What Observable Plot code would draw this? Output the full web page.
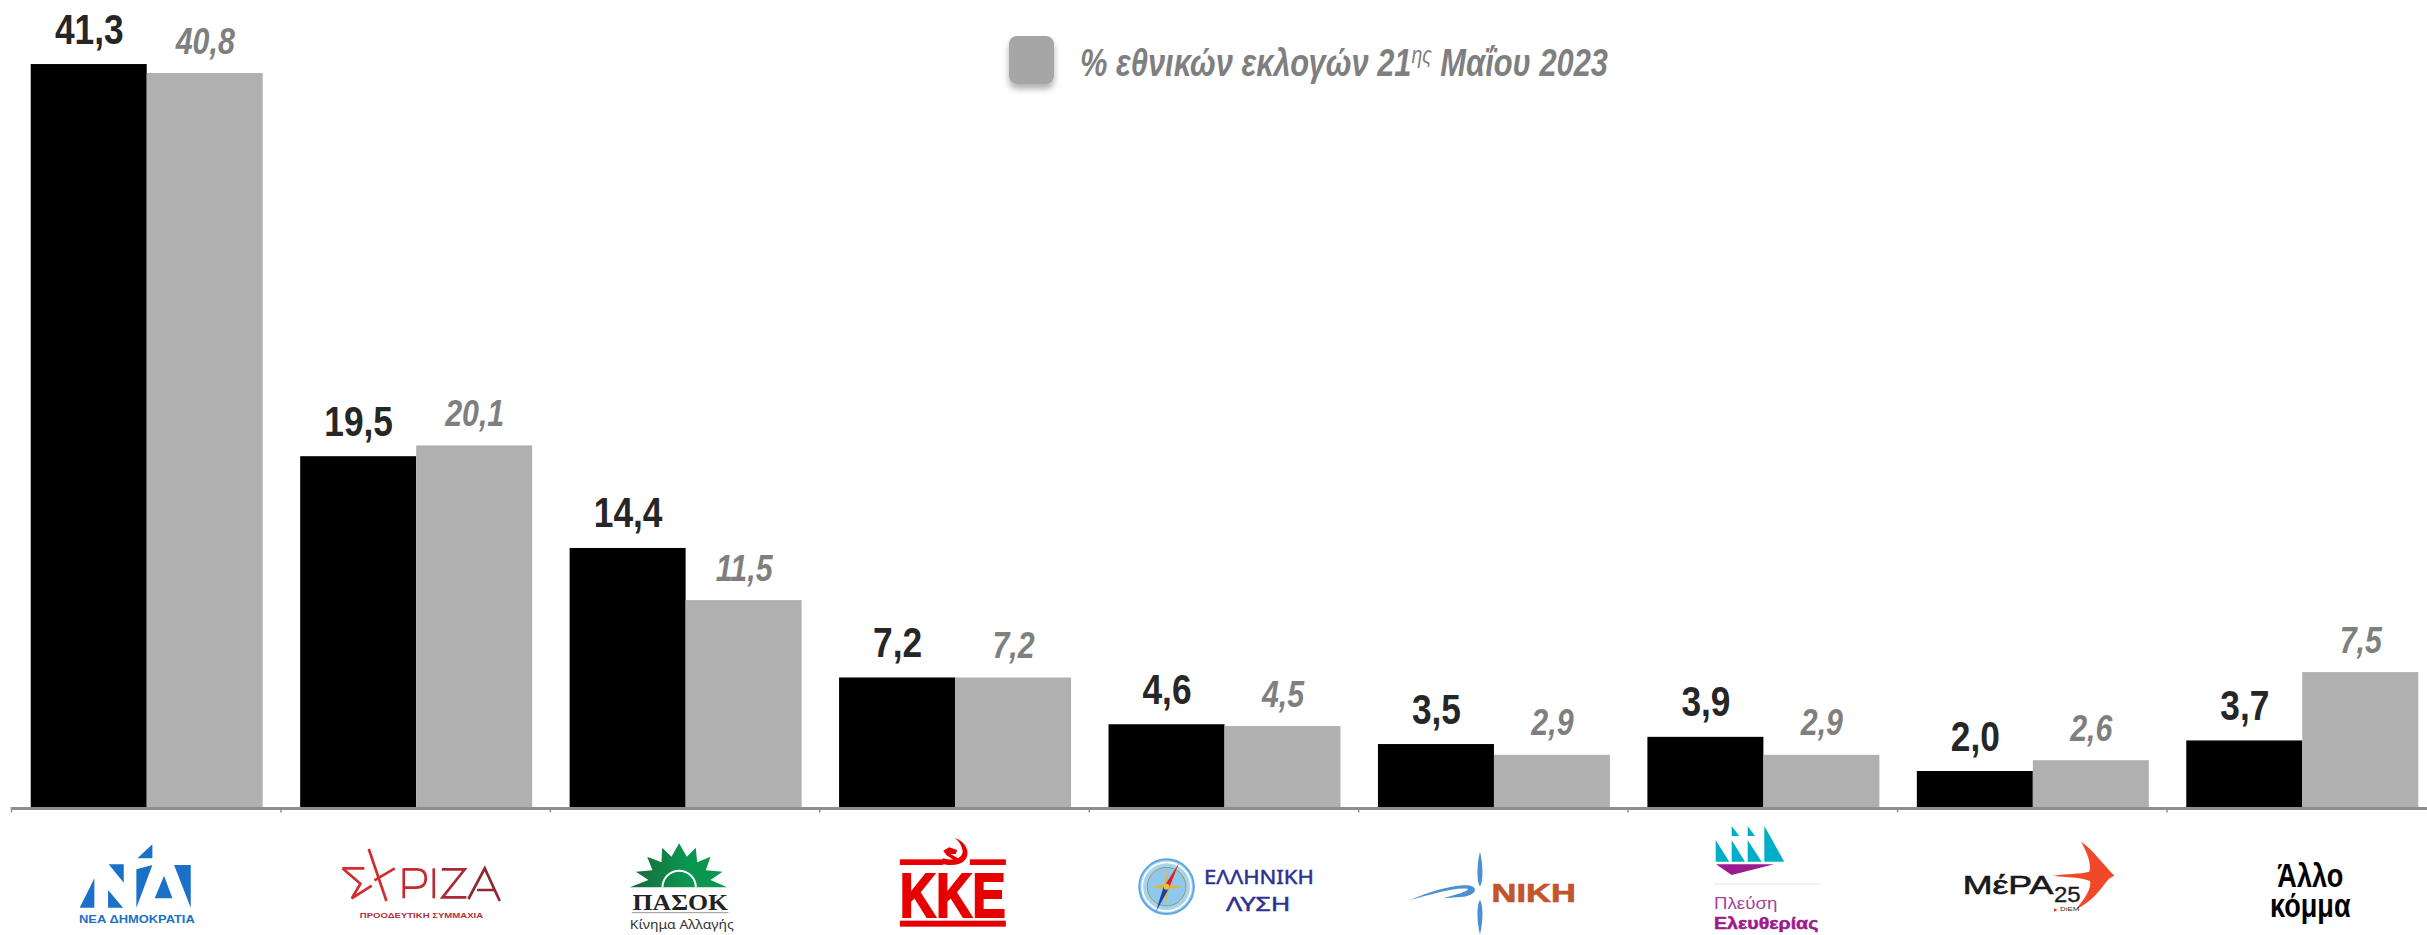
<!DOCTYPE html>
<html lang="el">
<head>
<meta charset="utf-8">
<title>Πρόθεση ψήφου</title>
<script src="https://cdn.jsdelivr.net/npm/d3@7"></script>
<script src="https://cdn.jsdelivr.net/npm/@observablehq/plot@0.6"></script>
<style>
html,body{margin:0;padding:0;background:#fff;overflow:hidden}
svg{display:block}
</style>
</head>
<body>
<div id="chart"></div>
<script>
const parties = ["Νέα Δημοκρατία","ΣΥΡΙΖΑ","ΠΑΣΟΚ","ΚΚΕ","Ελληνική Λύση","Νίκη","Πλεύση Ελευθερίας","ΜέΡΑ25","Άλλο κόμμα"];
const pollValues = [41.3,19.5,14.4,7.2,4.6,3.5,3.9,2.0,3.7];
const electionValues = [40.8,20.1,11.5,7.2,4.5,2.9,2.9,2.6,7.5];
const seriesNames = ["Δημοσκόπηση","Εκλογές 21ης Μαΐου 2023"];
const seriesColors = ["#000000","#b0b0b0"];
const legendMain = "% εθνικών εκλογών 21";
const legendSup = "ης";
const legendEnd = " Μαΐου 2023";

const rows = parties.flatMap((party,i)=>[
  {party, series:seriesNames[0], value:pollValues[i]},
  {party, series:seriesNames[1], value:electionValues[i]}
]);
const comma = v => d3.format(".1f")(v).replace(".",",");
const SANS = "'Liberation Sans',Arial,sans-serif";

const barW = 116.1, groupGap = 18.7, NARROW_RATIO = 0.82;

const chart = Plot.plot({
  width:2427, height:935,
  marginTop:0, marginBottom:128, marginLeft:12, marginRight:-10,
  style:{background:"#fff", fontFamily:SANS},
  fx:{domain:parties, axis:null, label:null, paddingInner:0.139, paddingOuter:0.0695, round:false},
  x:{domain:seriesNames, axis:null, label:null, padding:0, round:false},
  y:{domain:[0,44.86], axis:null, label:null},
  color:{domain:seriesNames, range:seriesColors},
  marks:[
    Plot.barY(rows,{fx:"party",x:"series",y:"value",fill:"series"}),
    Plot.ruleY(parties,{fx:d=>d,y:()=>0,stroke:"#8e8e8e",strokeWidth:3,dy:1,insetLeft:-groupGap-1,insetRight:-groupGap-1}),
    Plot.ruleX(parties,{fx:d=>d,x:()=>seriesNames[0],y1:()=>0,y2:()=>-0.3,stroke:"#8e8e8e",strokeWidth:1.5,dx:-(barW/2+groupGap+1)}),
    Plot.text(rows.filter(d=>d.series===seriesNames[0]),{fx:"party",x:"series",y:"value",text:d=>comma(d.value),
      lineAnchor:"bottom",dy:-21,fontSize:43,fontWeight:700,fill:"#262626",fontFamily:SANS,className:"narrow"}),
    Plot.text(rows.filter(d=>d.series===seriesNames[1]),{fx:"party",x:"series",y:"value",text:d=>comma(d.value),
      lineAnchor:"bottom",dy:-20,fontSize:37,fontWeight:700,fontStyle:"italic",fill:"#7f7f7f",fontFamily:SANS,className:"narrow"})
  ]
});
document.getElementById("chart").append(chart);

const svg = d3.select(chart);
const fxScale = chart.scale("fx");
const defs = svg.append("defs");
const f = defs.append("filter").attr("id","legendShadow").attr("x","-30%").attr("y","-30%").attr("width","160%").attr("height","170%");
f.append("feDropShadow").attr("dx",0).attr("dy",5).attr("stdDeviation",3).attr("flood-color","#000").attr("flood-opacity",0.3);
const g1 = defs.append("linearGradient").attr("id","pasokSun");
g1.append("stop").attr("offset","0%").attr("stop-color","#17693a");
g1.append("stop").attr("offset","60%").attr("stop-color","#0b9650");

// narrow look: no condensed face is installed, so each string is compressed to 82% of its width
function narrow(el){
  el.setAttribute("textLength", el.getComputedTextLength()*NARROW_RATIO);
  el.setAttribute("lengthAdjust","spacingAndGlyphs");
}
svg.selectAll(".narrow text").each(function(){narrow(this)});

// legend
const legend = svg.append("g").attr("class","legend").attr("text-anchor","start");
legend.append("rect").attr("x",1009).attr("y",36).attr("width",45).attr("height",48).attr("rx",8)
  .attr("fill","#a6a6a6").attr("filter","url(#legendShadow)");
const lt = legend.append("text").attr("x",1080).attr("y",76).attr("font-family",SANS).attr("font-size",38)
  .attr("font-weight",700).attr("font-style","italic").attr("fill","#7f7f7f")
  .attr("textLength",528).attr("lengthAdjust","spacingAndGlyphs");
lt.append("tspan").text(legendMain);
lt.append("tspan").attr("dy",-13).attr("font-size",24).attr("font-weight",400).text(legendSup);
lt.append("tspan").attr("dy",13).text(legendEnd);

// logos, drawn at 3x inside a group positioned from the fx scale
function logo(party, dx, top){
  return svg.append("g").attr("class","logo").attr("text-anchor","start")
    .attr("transform",`translate(${fxScale.apply(party)-1+dx},${top}) scale(${1/3})`);
}
const poly=(g,pts,fill)=>g.append("polygon").attr("points",pts).attr("fill",fill);
const path=(g,d,fill,stroke,sw)=>g.append("path").attr("d",d).attr("fill",fill||"none")
  .attr("stroke",stroke||"none").attr("stroke-width",sw||0);
const txt=(g,s,x,y,size,fill,o={})=>{
  const t=g.append("text").attr("x",x).attr("y",y).attr("font-size",size).attr("fill",fill)
   .attr("font-family",o.family||SANS).attr("font-weight",o.weight||400).text(s);
  if(o.len) t.attr("textLength",o.len).attr("lengthAdjust","spacingAndGlyphs");
  if(o.anchor) t.attr("text-anchor",o.anchor);
  if(o.bold) t.attr("stroke",fill).attr("stroke-width",o.bold);
  return t;
};

// ΝΔ
{
  const g=logo(parties[0],40,835), c="#1b70c8";
  ["248,28 248,70 203,70","74,130 74,218 30,218","117,88 162,88 162,143","115,165 160,218 115,218",
   "200,103 248,90 200,218","283,122 308,190 255,190","313,90 363,90 363,218"].forEach(p=>poly(g,p,c));
  txt(g,"ΝΕΑ ΔΗΜΟΚΡΑΤΙΑ",28,263,32,c,{weight:700,len:347});
}
// ΣΥΡΙΖΑ
{
  const g=logo(parties[1],30.6,835);
  const s=(d,c)=>path(g,d,"none",c,8).attr("stroke-linejoin","miter");
  s("M38,100 H104 M38,100 L92,146 L66,190 L126,152","#d62b2f");
  s("M117,42 L170,198 M195,100 L134,136","#d22c30");
  s("M222,100 V190 M222,103 H262 Q288,103 288,130 Q288,158 258,158 H225","#c42a30");
  s("M312,100 V190","#b82c33");
  s("M336,103 H405 L338,187 H410","#a82c35");
  s("M416,192 L465,100 L510,198 M442,165 H497","#8c2a30");
  txt(g,"ΠΡΟΟΔΕΥΤΙΚΗ ΣΥΜΜΑΧΙΑ",90,248,21,"#b0303a",{weight:700,len:370});
}
// ΠΑΣΟΚ
{
  const g=logo(parties[2],41.2,835);
  poly(g,"60,157 116,135 78,110 128,106 112,65 155,82 157,38 185,65 208,25 231,65 258,38 262,82 302,65 288,106 338,110 302,135 352,157","url(#pasokSun)");
  path(g,"M158,157 A50,50 0 0 1 258,157","none","#fff",6);
  txt(g,"ΠΑΣΟΚ",68,225,72,"#222",{family:"'Liberation Serif',serif",weight:700,len:287});
  path(g,"M66,233 H356","none","#999",3);
  txt(g,"Κίνημα Αλλαγής",60,283,40,"#333",{family:"'Noto Sans',sans-serif",len:312});
}
// ΚΚΕ
{
  const g=logo(parties[3],51.8,830), c="#e60000";
  g.append("rect").attr("x",30).attr("y",88).attr("width",130).attr("height",17).attr("fill",c);
  g.append("rect").attr("x",240).attr("y",88).attr("width",108).attr("height",17).attr("fill",c);
  g.append("rect").attr("x",30).attr("y",272).attr("width",318).attr("height",18).attr("fill",c);
  txt(g,"ΚΚΕ",30,260,188,c,{weight:700,len:318,bold:6});
  path(g,"M195,24 C245,40 250,105 185,105 C170,105 160,102 148,98 L160,85 C190,95 222,85 218,60 C215,45 207,33 195,24Z",c);
  poly(g,"160,62 178,52 202,60 198,72 182,72 214,90 204,98 170,76",c);
}
// Ελληνική Λύση
{
  const g=logo(parties[4],22.4,845);
  g.append("circle").attr("cx",110).attr("cy",125).attr("r",82).attr("fill","#a6d5f2").attr("stroke","#5fa8dc").attr("stroke-width",6);
  g.append("circle").attr("cx",110).attr("cy",125).attr("r",73).attr("fill","none").attr("stroke","#fff").attr("stroke-width",5);
  g.append("circle").attr("cx",110).attr("cy",125).attr("r",58).attr("fill","#8fc8ec").attr("stroke","#a8964a").attr("stroke-width",3);
  poly(g,"110,78 117,118 157,125 117,132 110,172 103,132 63,125 103,118","#e0b44a");
  poly(g,"147,55 118,128 104,122","#e02020");
  poly(g,"78,200 102,122 118,128","#1f3f9a");
  g.append("circle").attr("cx",110).attr("cy",125).attr("r",9).attr("fill","#e8c050");
  txt(g,"ΕΛΛΗΝΙΚΗ",222,118,62,"#2e3192",{family:"'Noto Sans',sans-serif",len:330,bold:1.5});
  txt(g,"ΛΥΣΗ",288,198,62,"#2e3192",{family:"'Noto Sans',sans-serif",len:194,bold:1.5});
}
// Νίκη
{
  const g=logo(parties[5],23,845), c="#4a90d2";
  path(g,"M240,20 C230,60 230,112 240,124 C250,112 250,60 240,20Z",c);
  path(g,"M240,165 C230,178 230,230 240,268 C250,230 250,178 240,165Z",c);
  path(g,"M30,165 C90,140 170,115 212,122 C236,130 226,150 190,155 L130,160 C160,150 200,142 205,132 C170,124 90,150 30,165Z",c);
  txt(g,"ΝΙΚΗ",275,172,80,"#c0562a",{weight:700,len:253,bold:2});
}
// Πλεύση Ελευθερίας
{
  const g=logo(parties[6],53.6,820), c="#00afc7", p="#9c1a8e";
  ["95,18 95,48 118,48","143,18 143,48 165,48","193,18 193,125 253,125","47,60 47,125 88,125","95,60 95,125 135,125","143,60 143,125 185,125"].forEach(d=>poly(g,d,c));
  poly(g,"48,133 222,133 95,165",p);
  path(g,"M42,192 H360","none","#e2e2e2",3);
  txt(g,"Πλεύση",42,268,50,"#a5439e",{len:190});
  txt(g,"Ελευθερίας",42,328,50,p,{weight:700,len:313,bold:1.5});
}
// ΜέΡΑ25
{
  const g=logo(parties[7],34.2,835);
  path(g,"M393,20 C425,40 465,95 493,122 C470,130 465,150 445,170 C425,195 400,212 378,222 C405,190 425,160 420,138 C390,125 350,128 310,122 C350,115 390,118 418,110 C425,85 410,50 393,20Z","#f0492a");
  txt(g,"ΜέΡΑ",38,178,78,"#1a1a1a",{len:272,bold:2});
  txt(g,"25",312,200,68,"#1a1a1a",{len:80,bold:1});
  poly(g,"312,220 322,225 312,230","#e03020");
  txt(g,"DiEM",330,229,18,"#333",{len:58});
}
// Άλλο κόμμα
{
  const g=logo(parties[8],125,0);
  narrow(txt(g,"Άλλο",0,2661,99,"#000",{weight:700,anchor:"middle"}).node());
  narrow(txt(g,"κόμμα",0,2751,99,"#000",{weight:700,anchor:"middle"}).node());
}
</script>
</body>
</html>
